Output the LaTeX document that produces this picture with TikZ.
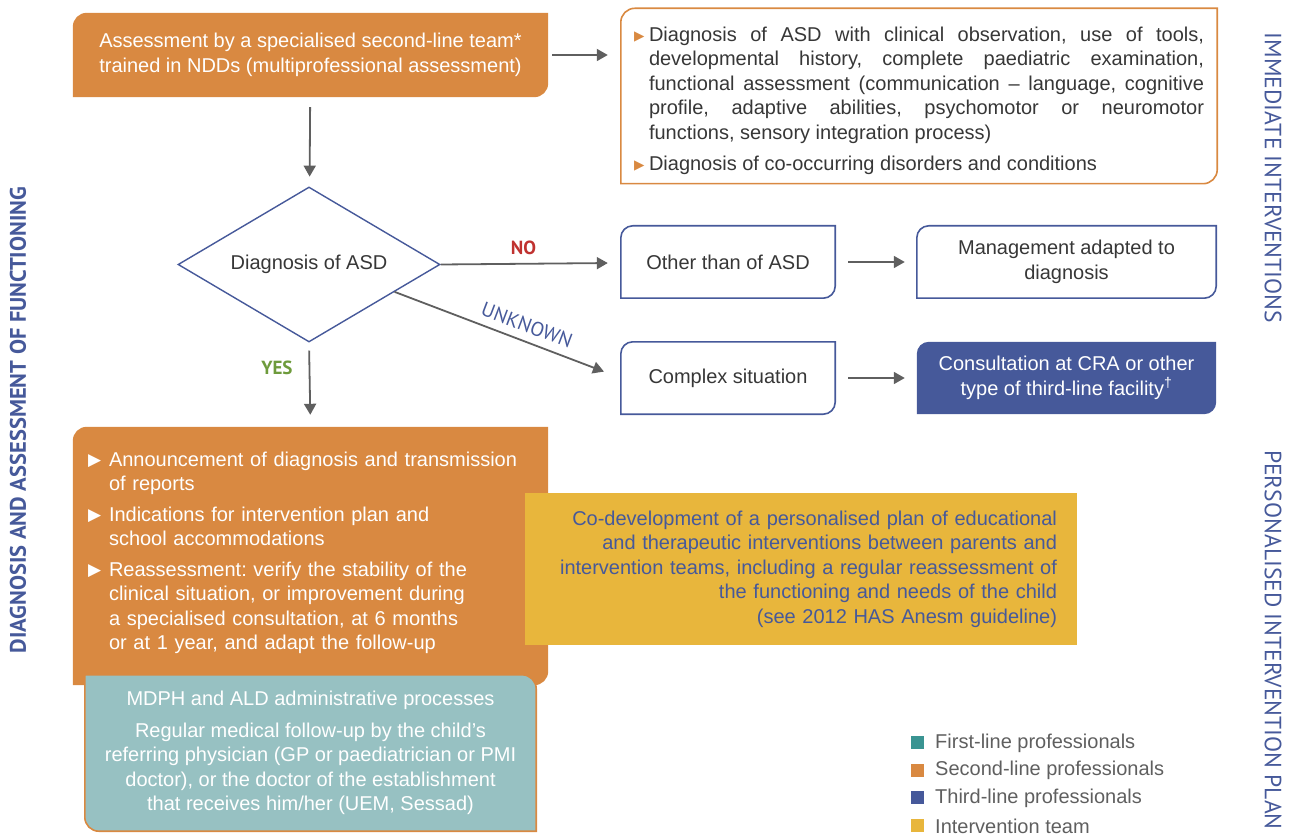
\documentclass[tikz,border=0pt]{standalone}
\usepackage{fontspec}
\setmainfont{Liberation Sans}
\newfontfamily\lblfont{PT Sans}
\newfontfamily\bulfont{DejaVu Sans}
\usetikzlibrary{shapes.geometric,backgrounds,calc,arrows.meta}
\frenchspacing

\definecolor{orng}{RGB}{217,137,65}
\definecolor{blu}{RGB}{70,89,154}
\definecolor{yel}{RGB}{232,182,60}
\definecolor{tealt}{RGB}{151,193,194}
\definecolor{tealk}{RGB}{58,148,146}
\definecolor{gry}{RGB}{95,95,95}
\definecolor{ink}{RGB}{55,55,55}
\definecolor{nored}{RGB}{192,50,48}
\definecolor{yesgrn}{RGB}{110,155,60}

% box with rounded top left and bottom right corners
\newcommand\tlbr[4]{\path[#1] let \p1=#3, \p2=#4 in
  (\x1,\y2) -- (\x1,\y1-#2) arc[start angle=180,end angle=90,radius=#2]
  -- (\x2,\y1) -- (\x2,\y2+#2) arc[start angle=0,end angle=-90,radius=#2] -- cycle;}
% box with rounded top right and bottom left corners
\newcommand\trbl[4]{\path[#1] let \p1=#3, \p2=#4 in
  (\x1,\y1) -- (\x2-#2,\y1) arc[start angle=90,end angle=0,radius=#2]
  -- (\x2,\y2) -- (\x1+#2,\y2) arc[start angle=270,end angle=180,radius=#2] -- cycle;}
% bullet item with hanging indent
\newcommand\bitem[4]{\par\hangindent=#1\hangafter=1\noindent
  \makebox[#1][l]{\raisebox{1pt}{\textcolor{#2}{\bulfont\fontsize{#3}{#3}\selectfont ▶}}}#4\par}

\begin{document}
\begin{tikzpicture}[x=1pt,y=-1pt,
    every node/.style={inner sep=0pt},
    txt/.style={font=\fontsize{20}{24.5}\selectfont},
    wbox/.style={txt,text=ink,minimum height=72pt,align=center},
    arr/.style={-{Triangle[length=11pt,width=12pt]},line width=1.8pt,draw=gry},
    lbl/.style={font=\lblfont\fontsize{23.5}{23.5}\selectfont,text=blu},
    ans/.style={font=\lblfont\bfseries\fontsize{19}{19}\selectfont}]
\useasboundingbox (0,0) rectangle (1293,834);

% top row
\node[wbox,text=white,minimum width=475pt,minimum height=84pt] (assess) at (310.5,55)
  {Assessment by a specialised second-line team*\\trained in NDDs (multiprofessional assessment)};
\node[txt,text=ink,minimum width=596pt,minimum height=175pt,text width=570pt,align=justify] (tools) at (919,96)
  {\bitem{15pt}{orng}{13.5}{Diagnosis of ASD with clinical observation, use of tools,\linebreak
   developmental history, complete paediatric examination,\linebreak
   functional assessment (communication -- language, cognitive\linebreak
   profile, adaptive abilities, psychomotor or neuromotor\linebreak
   functions, sensory integration process)}\vspace{7pt}
   \bitem{15pt}{orng}{13.5}{Diagnosis of co-occurring disorders and conditions}};

% decision
\node[diamond,draw=blu,line width=1.4pt,fill=white,aspect=1.7,
  minimum width=262pt,minimum height=155pt,txt,text=ink] (diag) at (309,264.5) {Diagnosis of ASD};
\coordinate (dk) at ($(diag.east)!.35!(diag.south)$);

\node[wbox,minimum width=214pt] (oth) at (728,262) {Other than of ASD};
\node[wbox,minimum width=299pt] (mgmt) at (1066.5,262) {Management adapted to\\diagnosis};
\node[wbox,minimum width=214pt] (cplx) at (728,378) {Complex situation};
\node[wbox,minimum width=299pt,text=white] (cra) at (1066.5,378)
  {Consultation at CRA or other\\type of third-line facility\textsuperscript{†}};

% lower part
\node[txt,text=white,minimum width=475pt,minimum height=242pt,text width=445pt,align=left] (annc) at (310.5,548)
  {\bitem{21pt}{white}{17}{Announcement of diagnosis and transmission\newline of reports}\vspace{6pt}
   \bitem{21pt}{white}{17}{Indications for intervention plan and\newline school accommodations}\vspace{6pt}
   \bitem{21pt}{white}{17}{Reassessment: verify the stability of the\newline clinical situation, or improvement during\newline
   a specialised consultation, at 6 months\newline or at 1 year, and adapt the follow-up}};
\node[txt,text=blu,minimum width=552pt,minimum height=152pt,text width=512pt,align=right] (plan) at (801,569)
  {Co-development of a personalised plan of educational\\and therapeutic interventions between parents and\\
   intervention teams, including a regular reassessment of\\the functioning and needs of the child\\
   (see 2012 HAS Anesm guideline)};
\node[txt,text=white,minimum width=451pt,minimum height=156pt,align=center] (fol) at (310.5,753)
  {MDPH and ALD administrative processes\\[7pt]Regular medical follow-up by the child’s\\
   referring physician (GP or paediatrician or PMI\\doctor), or the doctor of the establishment\\
   that receives him/her (UEM, Sessad)};

\begin{scope}[on background layer]
  \tlbr{fill=orng}{14pt}{(assess.north west)}{(assess.south east)}
  \tlbr{draw=orng,line width=1.6pt,fill=white}{14pt}{(tools.north west)}{(tools.south east)}
  \foreach \b in {oth,mgmt,cplx}
    {\tlbr{draw=blu,line width=1.6pt,fill=white}{12pt}{(\b.north west)}{(\b.south east)}}
  \tlbr{fill=blu}{12pt}{(cra.north west)}{(cra.south east)}
  \tlbr{fill=orng}{14pt}{(annc.north west)}{([yshift=-16pt]annc.south east)}
  \fill[yel] (plan.north west) rectangle (plan.south east);
  \trbl{fill=tealt,draw=orng,line width=1.6pt}{14pt}{(fol.north west)}{(fol.south east)}
\end{scope}

% connectors
\draw[arr,shorten <=4pt,shorten >=13pt] (assess) -- (assess -| tools.west);
\draw[arr,shorten <=10pt,shorten >=10pt] (assess) -- (diag);
\draw[arr,shorten >=13pt] (diag.east) -- (oth)
  node[pos=.46,above=8pt,ans,text=nored] {NO};
\draw[arr,shorten >=18pt] (dk) -- (cplx.west)
  node[pos=.56,sloped,above=8pt,ans,font=\lblfont\fontsize{20}{20}\selectfont,text=blu] {UNKNOWN};
\draw[arr,shorten <=8pt,shorten >=12pt] (diag.south) -- (annc.north)
  node[pos=.3,left=16pt,ans,text=yesgrn] {YES};
\draw[arr,shorten <=13pt,shorten >=12pt] (oth) -- (mgmt);
\draw[arr,shorten <=13pt,shorten >=12pt] (cplx) -- (cra);

% side titles
\node[lbl,font=\lblfont\bfseries\fontsize{22.5}{22.5}\selectfont,rotate=90] (lft) at (18,420)
  {DIAGNOSIS AND ASSESSMENT OF FUNCTIONING};
\node[lbl,rotate=-90] (imm) at (1273,178) {IMMEDIATE INTERVENTIONS};
\node[lbl,rotate=-90] (pip) at (1273,640) {PERSONALISED INTERVENTION PLAN};

% legend
\foreach \c/\t [count=\i] in {tealk/First-line professionals,orng/Second-line professionals,
    blu/Third-line professionals,yel/Intervention team}{
  \fill[\c] (911,{736+(\i-1)*27.7}) rectangle +(13,13);
  \node[txt,text=gry,anchor=west] (leg\i) at (935,{743+(\i-1)*27.7}) {\t};
}
\end{tikzpicture}
\end{document}
